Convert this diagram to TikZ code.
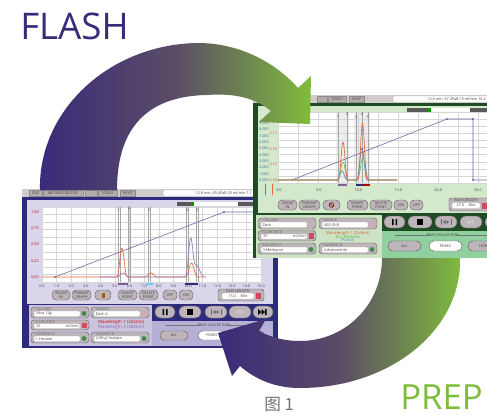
\documentclass[tikz,border=0pt]{standalone}
\usepackage{fontspec}
\setmainfont{Open Sans}
\newfontfamily\cjk{Noto Sans CJK SC}
\definecolor{flashpurple}{HTML}{3A2A7A}
\definecolor{prepgreen}{HTML}{80BC3C}
\definecolor{arcmid}{HTML}{5A4C66}
\definecolor{titlegray}{HTML}{D2CBCB}
\definecolor{menugray}{HTML}{B4ABAB}
\definecolor{btngray}{HTML}{BDB5B9}
\definecolor{btnedge}{HTML}{6A6065}
\definecolor{lnavy}{HTML}{2E2B7E}
\definecolor{llav}{HTML}{D9D6EC}
\definecolor{lbox}{HTML}{CAC4DF}
\definecolor{lpeak}{HTML}{B7B0D6}
\definecolor{rdark}{HTML}{1E4A24}
\definecolor{rlight}{HTML}{D4E8CB}
\definecolor{rbox}{HTML}{CDE3C3}
\definecolor{rmint}{HTML}{90CF9E}
\definecolor{progline}{HTML}{6C6CA6}
\definecolor{trorange}{HTML}{E8683C}
\definecolor{trpurple}{HTML}{9C74BC}
\definecolor{trgreen}{HTML}{62BE55}
\definecolor{trblue}{HTML}{4B86C8}
\definecolor{dropgreen}{HTML}{3E8A4A}
\definecolor{droppink}{HTML}{D9A9B8}
\definecolor{stopred}{HTML}{D7465C}
\begin{document}
\begin{tikzpicture}[x=0.75pt,y=-0.75pt,line join=round,line cap=round,
	declare function={sq(\u)=\u*\u;bump(\x,\c,\w)=sq(sq(max(0,1-sq((\x-\c)/\w))));},
	ui/.style={font=\fontsize{2.8}{3}\selectfont,inner sep=0pt,text=black!75,align=center},
	menu/.style={fill=menugray,draw=black!45,line width=0.2pt},
	btn/.style={fill=btngray,draw=btnedge,line width=0.35pt,rounded corners=3.2pt},
	field/.style={fill=white,draw=black!30,line width=0.2pt,rounded corners=0.8pt},
	gridline/.style={black!16,line width=0.25pt},
	marker/.style={black!35,line width=0.3pt},
	trace/.style={line width=0.5pt}]
	\useasboundingbox (0,0) rectangle (487,415);
	\clip (0,0) rectangle (487,415);
	%%left window (flash)
	\fill[titlegray] (22,189) rectangle (278,197);
	\foreach \t/\a/\b/\c [count=\i] in {FILE/29/42/75,METHOD EDITOR/43/83/75,RIO/85/97/30,TOOLS/98/117/75,HELP/120/135/75}{
		\draw[menu] (\a,190) rectangle (\b,196);
		\node[ui,text=black!\c] (lm\i) at ({(\a+\b)/2},193) {\t};
	}
	\draw[field] (163,190) rectangle (278,196);
	\node[ui,anchor=east] (ltime) at (252,193) {12.8 min, 85.4PaB 25 ml/min 7.1};
	\fill[lnavy] (22,197) rectangle (278,348);
	\fill[llav] (27,200) rectangle (273,304);
	\fill[white] (42,207) rectangle (262,282);
	\foreach \i in {0,...,15} \draw[gridline] ({42+14.6*\i},207) -- ({42+14.6*\i},282);
	\foreach \i in {0,...,10} \draw[gridline] (42,{207+7.5*\i}) -- (262,{207+7.5*\i});
	\fill[black!65] (177,202) rectangle (191,206);
	\fill[green!60!black] (191,202) rectangle (194,206);
	\fill[white] (194,202) rectangle (238,206);
	\fill[black!65] (238,202) rectangle (256,206);
	\foreach \v [count=\i from 0] in {0.00,0.25,0.50,0.75,1.00}
		\node[ui,text=red!75!black] (ly\i) at (35,{277-16.25*\i}) {\v};
	\foreach \i in {0,...,15} \node[ui] (lx\i) at ({42+14.6*\i},286.5) {\i.0};
	\foreach \m/\h [count=\i] in {118/210,128/208,148/210,186/210,196/210}{
		\draw[marker] (\m,207) -- (\m,282) ({\m+2.5},207) -- ({\m+2.5},282);
		\node[ui] (lk\i) at ({\m+1},\h) {\i};
	}
	\path (55,277) coordinate (lp1) (224,212) coordinate (lp2) (256,212) coordinate (lp3);
	\draw[progline,line width=0.45pt] (lp1) -- (lp2) -- (lp3);
	\foreach \p in {lp1,lp2} \fill[progline] (\p) circle (0.8pt);
	\draw[trace,trorange] plot[domain=42:203,samples=260] (\x,{277-29*bump(\x,122,6)-4*bump(\x,151,7)-14*bump(\x,191.5,7)});
	\draw[trace,trpurple] plot[domain=100:206,samples=200] (\x,{277-4*bump(\x,123,7)-36*bump(\x,190.5,6)-12*bump(\x,196,10)});
	\fill[trpurple!80!black] (118,282.5) rectangle (128,284.5);
	\fill[cyan!60] (146,282.5) rectangle (153,284.5);
	\fill[lnavy] (185,282.5) rectangle (198,284.5);
	\foreach \a/\b/\t [count=\i] in {52/70/ZOOM\\IN,72/91/FORMAT\\GRAPH,95/111/{},118/137/INSERT\\POINT,139/158/DELETE\\POINT,163/177/OFF,179/193/ON}{
		\draw[btn] (\a,290) rectangle (\b,300);
		\node[ui] (lb\i) at ({(\a+\b)/2},295) {\t};
	}
	\fill[orange!70!black] (101.5,292.5) rectangle (104.5,297.5);
	\draw[btn,rounded corners=2pt] (218,289) rectangle (264,301);
	\node[ui] (lrunt) at (238,290.8) {RUN LENGTH};
	\draw[field] (222,293) rectangle (254,299);
	\node[ui] (lrun) at (238,296) {15.4 \quad Min};
	\fill[stopred] (256,293) rectangle (261,299);
	%%left controls
	\fill[lbox] (29,305) rectangle (152,346);
	\foreach \a/\y/\h/\v/\d [count=\i] in {31/307/COLUMN/Silica 12g/dropgreen,91/307/SAMPLE/Dash 4/droppink,31/332/SOLVENT A/1-Hexane/dropgreen,91/332/SOLVENT B/2-Ethyl Acetate/dropgreen}{
		\draw[btn,rounded corners=2.5pt] (\a,\y) rectangle ({\a+58},{\y+11});
		\node[ui,anchor=west,text=black!60] (lf\i) at ({\a+4},{\y+2.2}) {\h};
		\draw[field] ({\a+3},{\y+4}) rectangle ({\a+49},{\y+9.5});
		\node[ui,anchor=west] (lv\i) at ({\a+4.5},{\y+6.8}) {\v};
		\fill[\d] ({\a+53},{\y+6.5}) circle (1.8pt);
	}
	\draw[btn,rounded corners=2.5pt] (31,320) rectangle (89,330);
	\node[ui,anchor=west,text=black!60] (lflow) at (35,321.9) {FLOW RATE};
	\draw[field] (34,323.5) rectangle (80,328.5);
	\node[ui,anchor=west] (lflowv) at (36,326) {25};
	\node[ui,anchor=east] (lflowu) at (79,326) {ml/min};
	\fill[stopred] (82,322.5) rectangle (87,328);
	\node[ui,text=red!80!black,font=\fontsize{3.3}{3.5}\selectfont] (lw1) at (121,322.5) {Wavelength 1 (254nm)};
	\node[ui,text=trpurple!90!black,font=\fontsize{3.3}{3.5}\selectfont] (lw2) at (121,327.5) {Wavelength 2 (280nm)};
	\foreach \a/\b [count=\i] in {155/175,179/201,205/227,229/251,253/273}
		\draw[btn,rounded corners=4.4pt] (\a,306) rectangle (\b,318);
	\fill (162.5,309) rectangle (164,315) (166,309) rectangle (167.5,315);
	\fill (187,309) rectangle (193,315);
	\draw[black!60,line width=0.4pt] (211,309.5) -- (211,314.5) (221,309.5) -- (221,314.5);
	\fill[black!60] (213,312) -- (215.5,310) -- (215.5,314) -- cycle (219,312) -- (216.5,310) -- (216.5,314) -- cycle;
	\fill[black!22] (235,312) -- (239,309.5) -- (239,314.5) -- cycle (239,312) -- (243,309.5) -- (243,314.5) -- cycle;
	\fill (258,309) -- (261.5,312) -- (258,315) -- cycle (261.5,309) -- (265,312) -- (261.5,315) -- cycle (265,309) rectangle (266.5,315);
	\fill[lpeak] (152,321) rectangle (273,346);
	\node[ui] (lpc) at (214,325) {PEAK COLLECTION};
	\draw[black!55,line width=0.2pt] (166,325) -- (201,325) (227,325) -- (262,325);
	\foreach \a/\t/\f [count=\i] in {160/ALL/btngray,198/PEAKS/white,236/NONE/btngray}{
		\draw[btn,fill=\f] (\a,331) rectangle ({\a+28},340);
		\node[ui] (lc\i) at ({\a+14},335.5) {\t};
	}
	%%right window (prep)
	\fill[titlegray] (253,95) rectangle (487,103);
	\foreach \t/\a/\b/\c [count=\i] in {RIO/317/327/30,TOOLS/328/346/75,HELP/349/364/75}{
		\draw[menu] (\a,96) rectangle (\b,102);
		\node[ui,text=black!\c] (rm\i) at ({(\a+\b)/2},99) {\t};
	}
	\draw[field] (393,96) rectangle (490,102);
	\node[ui,anchor=east] (rtime) at (486,99) {14.6 min, 67.2PaB 15 ml/min 16.4};
	\fill[rdark] (253,103) rectangle (487,258);
	\fill[rlight] (258,106) rectangle (487,213);
	\fill[white] (278,112) rectangle (487,183);
	\fill[black!7] (336,112) rectangle (349,183) (354,112) rectangle (370,183);
	\foreach \i in {0,...,10} \draw[gridline] ({278+20*\i},112) -- ({278+20*\i},183);
	\foreach \i in {0,...,10} \draw[gridline] (278,{112+7.1*\i}) -- (487,{112+7.1*\i});
	\fill[black!65] (407,108) rectangle (427,112);
	\fill[green!60!black] (427,108) rectangle (431,112);
	\fill[white] (431,108) rectangle (470,112);
	\fill[black!65] (470,108) rectangle (487,112);
	\foreach \i in {0,...,9}
		\node[ui,text=trblue!80!black] (ry\i) at (264,{180-6.3*\i}) {\i.000};
	\foreach \v [count=\i from 0] in {0.00,0.25,0.50,0.75}
		\node[ui,text=trorange] (rz\i) at (273.5,{180-15.6*\i}) {\v};
	\draw[trblue,line width=0.4pt] (265,184) -- (265,195);
	\draw[trorange,line width=0.4pt] (272,184) -- (272,195);
	\foreach \v [count=\i from 0] in {0.0,5.0,10.0,15.0,20.0,25.0}
		\node[ui] (rx\i) at ({279+39.8*\i},190) {\v};
	\foreach \m/\h [count=\i] in {338/117,347/114,356/117,362/114,368/117}{
		\draw[marker] (\m,112) -- (\m,183);
		\node[ui] (rk\i) at (\m,\h) {\i};
	}
	\path (292,180) coordinate (rp1) (447,119) coordinate (rp2) (473,119) coordinate (rp3) (473,180) coordinate (rp4) (487,180) coordinate (rp5);
	\draw[progline,line width=0.45pt] (rp1) -- (rp2) -- (rp3) -- (rp4) -- (rp5);
	\foreach \p in {rp2,rp3,rp4} \fill[progline] (\p) circle (0.8pt);
	\draw[trace,trblue] plot[domain=278:397,samples=240] (\x,{180-9*bump(\x,342,6)-32*bump(\x,362,6)});
	\draw[trace,trgreen] plot[domain=278:397,samples=240] (\x,{180-18*bump(\x,343,6)-22*bump(\x,363,7)});
	\draw[trace,trorange] plot[domain=278:397,samples=240] (\x,{180-38*bump(\x,343,5.5)-57*bump(\x,362.5,5.5)});
	\fill[trpurple!80!black] (338,184) rectangle (347,185.8);
	\fill[lnavy] (356,184) rectangle (363,185.8);
	\fill[red!70!black] (363,184) rectangle (370,185.8);
	\foreach \a/\b/\t [count=\i] in {278/297/ZOOM\\IN,299/320/FORMAT\\GRAPH,323/340/{},347/368/INSERT\\POINT,370/392/DELETE\\POINT,394/408/ON,410/423/OFF}{
		\draw[btn] (\a,200) rectangle (\b,210);
		\node[ui] (rb\i) at ({(\a+\b)/2},205) {\t};
	}
	\draw[red!60!black,line width=0.45pt] (331.5,205) circle (1.8pt) (330.3,203.8) -- (332.7,206.2);
	\draw[btn,rounded corners=2pt] (449,198) rectangle (492,211);
	\node[ui] (rrunt) at (466,200) {RUN LENGTH};
	\draw[field] (452,202.5) rectangle (480,208.5);
	\node[ui] (rrun) at (466,205.5) {27.8 \quad Min};
	\fill[stopred] (482,202.5) rectangle (487,208.5);
	%%right controls
	\draw[rbox,fill=rbox] (256,215) rectangle (381,257);
	\foreach \a/\y/\h/\v/\d [count=\i] in {258/218/COLUMN/Dark/btngray,319/218/SAMPLE/40G ID-B/droppink,258/243/SOLVENT A/3-Methanol/dropgreen,319/243/SOLVENT B/4-Acetonitrile/dropgreen}{
		\draw[btn,rounded corners=2.5pt] (\a,\y) rectangle ({\a+58},{\y+11});
		\node[ui,anchor=west,text=black!60] (rf\i) at ({\a+4},{\y+2.2}) {\h};
		\draw[field] ({\a+3},{\y+4}) rectangle ({\a+49},{\y+9.5});
		\node[ui,anchor=west] (rv\i) at ({\a+4.5},{\y+6.8}) {\v};
		\fill[\d] ({\a+53},{\y+6.5}) circle (1.8pt);
	}
	\draw[btn,rounded corners=2.5pt] (258,230.5) rectangle (316,241);
	\node[ui,anchor=west,text=black!60] (rflow) at (262,232.4) {FLOW RATE};
	\draw[field] (261,234) rectangle (307,239);
	\node[ui,anchor=west] (rflowv) at (263,236.5) {25};
	\node[ui,anchor=east] (rflowu) at (306,236.5) {ml/min};
	\fill[stopred] (309,233) rectangle (314,238.5);
	\node[ui,text=trorange!90!black,font=\fontsize{3.1}{3.3}\selectfont] (rw1) at (348,233) {Wavelength 1 (254nm)};
	\node[ui,text=trgreen!90!black,font=\fontsize{3.1}{3.3}\selectfont] (rw2) at (348,236.6) {ELS Detector};
	\node[ui,text=trblue,font=\fontsize{3.1}{3.3}\selectfont] (rw3) at (348,240.2) {Purion};
	\foreach \a/\b [count=\i] in {384/405,408/432,435/457,460/482,485/507}
		\draw[btn,rounded corners=4.4pt] (\a,216) rectangle (\b,228);
	\fill (392,219) rectangle (393.5,225) (395.5,219) rectangle (397,225);
	\fill (417,219) rectangle (423,225);
	\draw[black!60,line width=0.4pt] (441,219.5) -- (441,224.5) (451,219.5) -- (451,224.5);
	\fill[black!60] (443,222) -- (445.5,220) -- (445.5,224) -- cycle (449,222) -- (446.5,220) -- (446.5,224) -- cycle;
	\fill[black!22] (466,222) -- (470,219.5) -- (470,224.5) -- cycle (470,222) -- (474,219.5) -- (474,224.5) -- cycle;
	\fill[rmint] (382,231) rectangle (487,258);
	\node[ui] (rpc) at (443,235.5) {PEAK COLLECTION};
	\draw[black!55,line width=0.2pt] (395,235.5) -- (430,235.5) (456,235.5) -- (487,235.5);
	\foreach \a/\t/\f [count=\i] in {388/ALL/btngray,429/PEAKS/white,468/NONE/btngray}{
		\draw[btn,fill=\f,rounded corners=3.6pt] (\a,241) rectangle ({\a+33},251);
		\node[ui] (rc\i) at ({\a+16.5},246) {\t};
	}
	%%arrows
	\shade[left color=flashpurple,right color=prepgreen,middle color=arcmid]
		(40,190) .. controls (38,110) and (110,44) .. (198,43)
		.. controls (240,43) and (276,63) .. (298,88)
		-- (311,76) -- (310,124) -- (259,122) -- (271,111)
		.. controls (255,98) and (235,93) .. (207,95)
		.. controls (150,96) and (117,125) .. (117,190) -- cycle;
	\shade[left color=flashpurple,right color=prepgreen,middle color=arcmid]
		(460,258) .. controls (462,330) and (390,388) .. (300,388)
		.. controls (276,388) and (256,380) .. (240,366)
		-- (232,376) -- (218,333) -- (266,319) -- (259,331)
		.. controls (272,338) and (286,341) .. (300,341)
		.. controls (345,341) and (382,305) .. (382,258) -- cycle;
	%%titles
	\node[text=flashpurple,font=\fontsize{27.5}{27.5}\selectfont,inner sep=0pt,anchor=base west] (flash) at (20,39) {FLASH};
	\node[text=prepgreen,font=\fontsize{26}{26}\selectfont,inner sep=0pt,anchor=base west] (prep) at (400,409) {PREP};
	\node[text=black!55,font=\cjk\fontsize{12.5}{12.5}\selectfont,inner sep=0pt,anchor=base west] (fig) at (264,410) {图 1};
\end{tikzpicture}
\end{document}
